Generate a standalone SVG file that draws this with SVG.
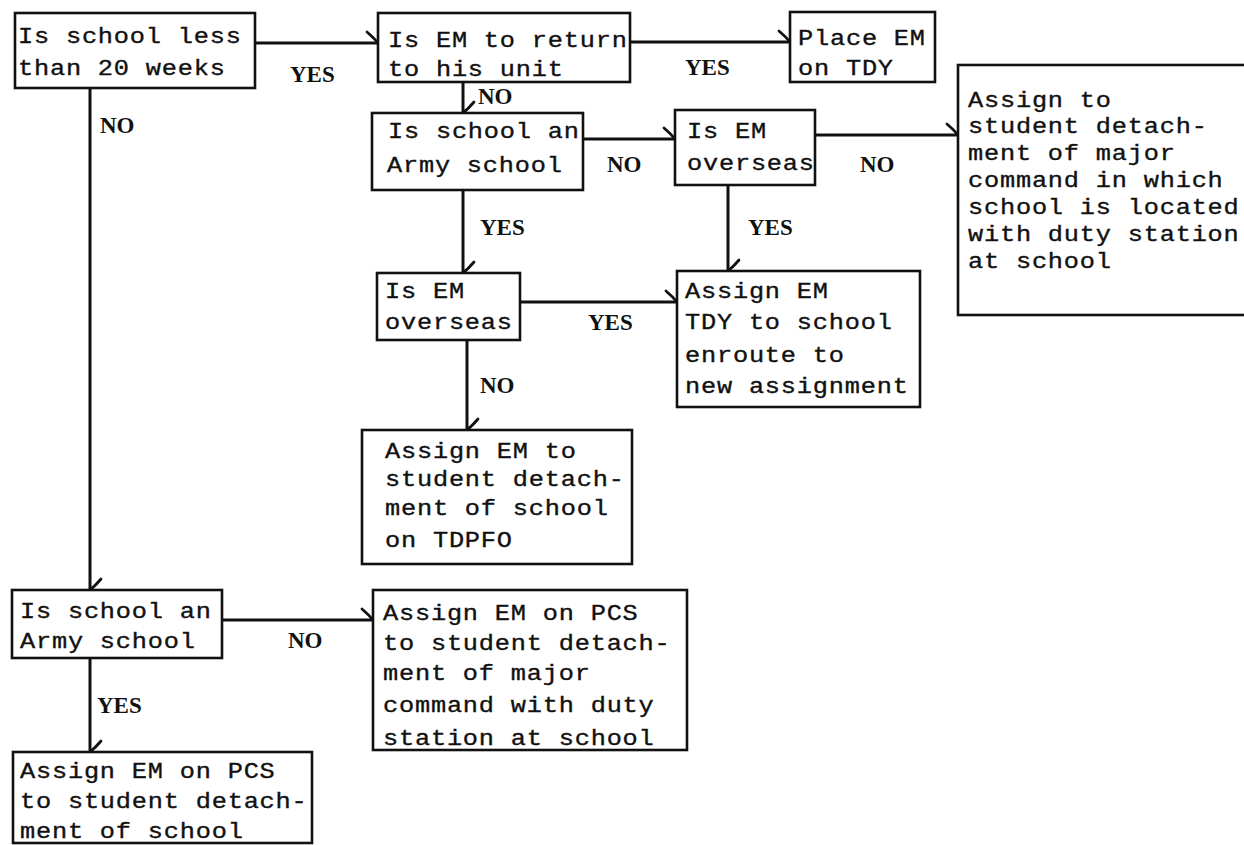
<svg xmlns="http://www.w3.org/2000/svg" width="1244" height="845" viewBox="0 0 1244 845">
  <style>
    .box { fill: #fff; stroke: #111; stroke-width: 2.6; }
    .edge { fill: none; stroke: #111; stroke-width: 3; }
    .t { font-family: "Liberation Mono", "DejaVu Sans Mono", monospace; font-size: 22px; letter-spacing: 0.7px; fill: #111; stroke: #111; stroke-width: 0.35px; }
    .lbl { font-family: "Liberation Serif", "DejaVu Serif", serif; font-size: 23px; font-weight: bold; fill: #111; }
  </style>
  <defs>
    <!-- hand-drawn single barb at the end of each flow line -->
    <marker id="barb" viewBox="-14 -14 16 16" refX="0" refY="0" markerWidth="16" markerHeight="16" markerUnits="userSpaceOnUse" orient="auto">
      <path d="M-11,-11 Q-4,-5 0,0" fill="none" stroke="#111" stroke-width="2.8" stroke-linecap="round"/>
    </marker>
  </defs>
  <rect width="1244" height="845" fill="#fff"/>

  <!-- flow lines and their YES / NO labels -->
  <g id="connectors">
    <path class="edge" d="M255,43 H378" marker-end="url(#barb)"/>
    <path class="edge" d="M90,88 V590" marker-end="url(#barb)"/>
    <path class="edge" d="M630,42 H790" marker-end="url(#barb)"/>
    <path class="edge" d="M463,82 V113" marker-end="url(#barb)"/>
    <path class="edge" d="M583,139 H675" marker-end="url(#barb)"/>
    <path class="edge" d="M815,135 H958" marker-end="url(#barb)"/>
    <path class="edge" d="M463,190 V273" marker-end="url(#barb)"/>
    <path class="edge" d="M728,185 V271" marker-end="url(#barb)"/>
    <path class="edge" d="M520,302 H677" marker-end="url(#barb)"/>
    <path class="edge" d="M467,340 V430" marker-end="url(#barb)"/>
    <path class="edge" d="M222,620 H373" marker-end="url(#barb)"/>
    <path class="edge" d="M90,658 V752" marker-end="url(#barb)"/>
    <text class="lbl" x="290" y="82">YES</text>
    <text class="lbl" x="100" y="133">NO</text>
    <text class="lbl" x="685" y="75">YES</text>
    <text class="lbl" x="478" y="104">NO</text>
    <text class="lbl" x="607" y="172">NO</text>
    <text class="lbl" x="860" y="172">NO</text>
    <text class="lbl" x="480" y="235">YES</text>
    <text class="lbl" x="748" y="235">YES</text>
    <text class="lbl" x="588" y="330">YES</text>
    <text class="lbl" x="480" y="393">NO</text>
    <text class="lbl" x="288" y="648">NO</text>
    <text class="lbl" x="97" y="713">YES</text>
  </g>

  <g id="school-length">
    <rect class="box" x="15" y="13" width="240" height="75"/>
    <text class="t" transform="translate(18 43) scale(1.15 1)">Is school less</text>
    <text class="t" transform="translate(18 75) scale(1.15 1)">than 20 weeks</text>
  </g>

  <g id="return-to-unit">
    <rect class="box" x="378" y="13" width="252" height="69"/>
    <text class="t" transform="translate(388 47) scale(1.15 1)">Is EM to return</text>
    <text class="t" transform="translate(388 76) scale(1.15 1)">to his unit</text>
  </g>

  <g id="place-tdy">
    <rect class="box" x="790" y="12" width="145" height="70"/>
    <text class="t" transform="translate(798 45) scale(1.15 1)">Place EM</text>
    <text class="t" transform="translate(798 75) scale(1.15 1)">on TDY</text>
  </g>

  <g id="army-school-1">
    <rect class="box" x="372" y="113" width="211" height="77"/>
    <text class="t" transform="translate(388 138) scale(1.15 1)">Is school an</text>
    <text class="t" transform="translate(387 172) scale(1.15 1)">Army school</text>
  </g>

  <g id="overseas-1">
    <rect class="box" x="675" y="110" width="140" height="75"/>
    <text class="t" transform="translate(687 138) scale(1.15 1)">Is EM</text>
    <text class="t" transform="translate(687 170) scale(1.15 1)">overseas</text>
  </g>

  <g id="major-command">
    <rect class="box" x="958" y="65" width="300" height="250"/>
    <text class="t" transform="translate(968 107) scale(1.15 1)">Assign to</text>
    <text class="t" transform="translate(968 133) scale(1.15 1)">student detach-</text>
    <text class="t" transform="translate(968 160) scale(1.15 1)">ment of major</text>
    <text class="t" transform="translate(968 187) scale(1.15 1)">command in which</text>
    <text class="t" transform="translate(968 214) scale(1.15 1)">school is located</text>
    <text class="t" transform="translate(968 241) scale(1.15 1)">with duty station</text>
    <text class="t" transform="translate(968 268) scale(1.15 1)">at school</text>
  </g>

  <g id="overseas-2">
    <rect class="box" x="377" y="273" width="143" height="67"/>
    <text class="t" transform="translate(385 298) scale(1.15 1)">Is EM</text>
    <text class="t" transform="translate(385 329) scale(1.15 1)">overseas</text>
  </g>

  <g id="tdy-enroute">
    <rect class="box" x="677" y="271" width="243" height="136"/>
    <text class="t" transform="translate(685 298) scale(1.15 1)">Assign EM</text>
    <text class="t" transform="translate(685 329) scale(1.15 1)">TDY to school</text>
    <text class="t" transform="translate(685 362) scale(1.15 1)">enroute to</text>
    <text class="t" transform="translate(685 393) scale(1.15 1)">new assignment</text>
  </g>

  <g id="tdpfo">
    <rect class="box" x="362" y="430" width="270" height="134"/>
    <text class="t" transform="translate(385 458) scale(1.15 1)">Assign EM to</text>
    <text class="t" transform="translate(385 486) scale(1.15 1)">student detach-</text>
    <text class="t" transform="translate(385 515) scale(1.15 1)">ment of school</text>
    <text class="t" transform="translate(385 547) scale(1.15 1)">on TDPFO</text>
  </g>

  <g id="army-school-2">
    <rect class="box" x="12" y="590" width="210" height="68"/>
    <text class="t" transform="translate(20 618) scale(1.15 1)">Is school an</text>
    <text class="t" transform="translate(20 648) scale(1.15 1)">Army school</text>
  </g>

  <g id="pcs-major-command">
    <rect class="box" x="373" y="590" width="314" height="160"/>
    <text class="t" transform="translate(383 620) scale(1.15 1)">Assign EM on PCS</text>
    <text class="t" transform="translate(383 650) scale(1.15 1)">to student detach-</text>
    <text class="t" transform="translate(383 680) scale(1.15 1)">ment of major</text>
    <text class="t" transform="translate(383 712) scale(1.15 1)">command with duty</text>
    <text class="t" transform="translate(383 745) scale(1.15 1)">station at school</text>
  </g>

  <g id="pcs-school">
    <rect class="box" x="13" y="752" width="299" height="91"/>
    <text class="t" transform="translate(20 778) scale(1.15 1)">Assign EM on PCS</text>
    <text class="t" transform="translate(20 808) scale(1.15 1)">to student detach-</text>
    <text class="t" transform="translate(20 838) scale(1.15 1)">ment of school</text>
  </g>
</svg>
